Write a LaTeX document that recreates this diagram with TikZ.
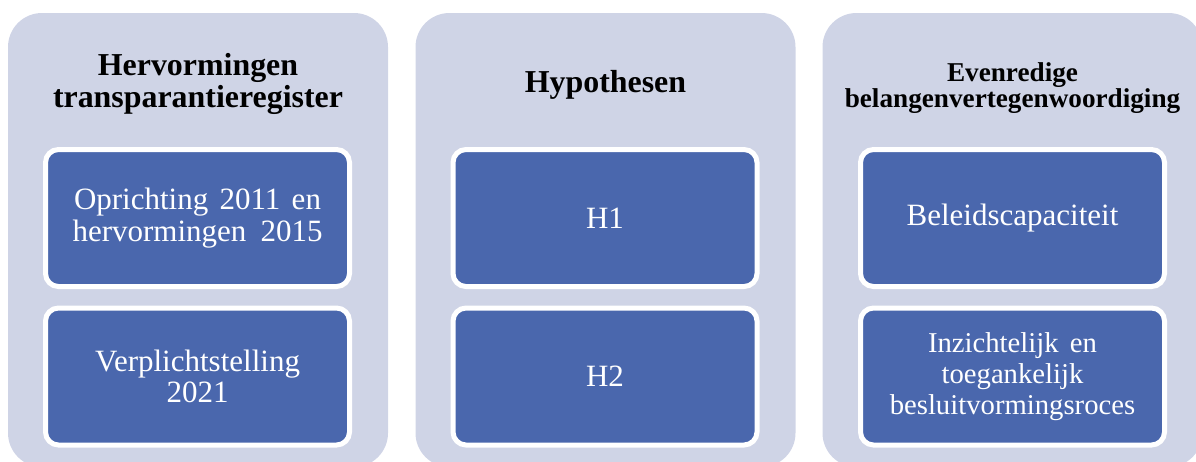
\documentclass[tikz,border=0pt]{standalone}
\usepackage{fontspec}
\setmainfont{Liberation Serif}
\definecolor{panelbg}{HTML}{CFD4E6}
\definecolor{itemblue}{HTML}{4A67AD}
\tikzset{
  panel/.style={fill=panelbg, rounded corners=34pt, minimum width=380pt,
    minimum height=454pt, inner sep=0pt},
  heading/.style={align=center, inner sep=0pt, text=black,
    font=\bfseries\fontsize{31.9}{32}\selectfont},
  smallheading/.style={heading, font=\bfseries\fontsize{27.2}{26.5}\selectfont},
  item/.style={draw=white, line width=5pt, fill=itemblue, rounded corners=13pt,
    minimum width=304pt, minimum height=137pt, inner sep=0pt, text=white,
    align=center, font=\fontsize{31}{31.5}\selectfont},
  smallitem/.style={item, font=\fontsize{28.7}{31}\selectfont}
}
% a line of text spread out to a fixed width, as in justified text
\newcommand{\spreadline}[2]{\makebox[#1][s]{#2}}
\begin{document}
\begin{tikzpicture}[x=1pt, y=-1pt]
  \useasboundingbox (0,0) rectangle (1196,461);
  \clip (0,0) rectangle (1196,461);

  % background panels
  \node[panel] (p1) at (198,240) {};
  \node[panel] (p2) at (605.5,240) {};
  \node[panel] (p3) at (1012.5,240) {};

  % headings
  \node[heading] (h1) at (198,84) {Hervormingen\\transparantieregister};
  \node[heading] (h2) at (605.5,85) {Hypothesen};
  \node[smallheading] (h3) at (1012.5,88) {Evenredige\\belangenvertegenwoordiging};

  % first column
  \node[item] (a1) at (197.5,218)
    {\spreadline{247pt}{Oprichting 2011 en}\\\spreadline{250pt}{hervormingen 2015}};
  \node[item] (a2) at (197.5,376.5) {Verplichtstelling\\2021};

  % second column
  \node[item] (b1) at (605,218) {H1};
  \node[item] (b2) at (605,376.5) {H2};

  % third column
  \node[item] (c1) at (1012.5,218) {Beleidscapaciteit};
  \node[smallitem] (c2) at (1012.5,376.5)
    {\spreadline{169pt}{Inzichtelijk en}\\toegankelijk\\besluitvormingsroces};
\end{tikzpicture}
\end{document}
